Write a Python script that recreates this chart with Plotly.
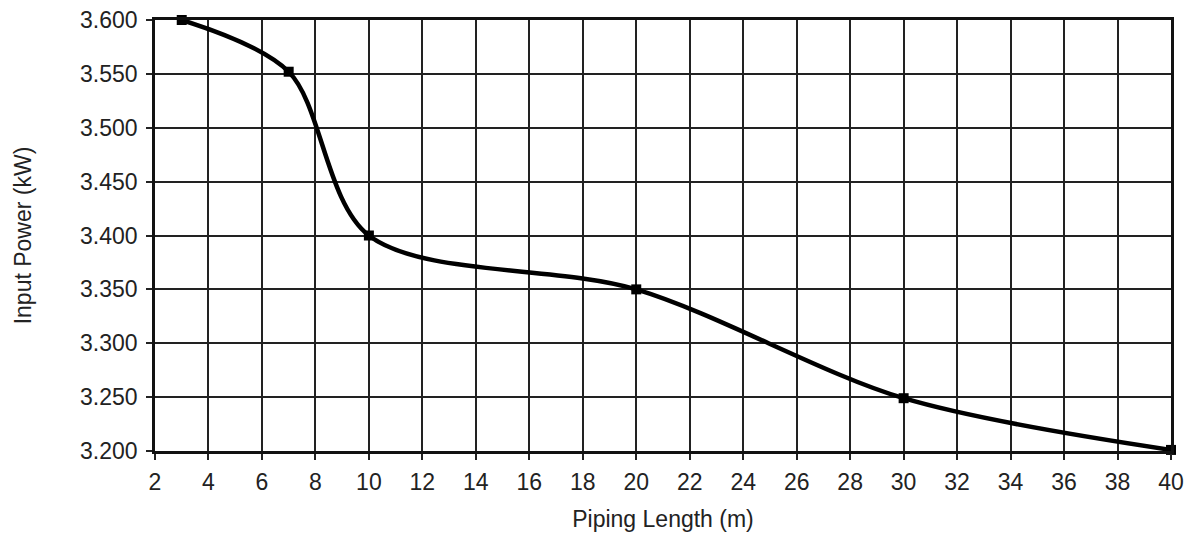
import plotly.graph_objects as go

# Piping length vs input power
piping_length = [3, 7, 10, 20, 30, 40]
input_power = [3.600, 3.552, 3.400, 3.350, 3.249, 3.201]

x_ticks = list(range(2, 41, 2))
y_ticks = [3.20, 3.25, 3.30, 3.35, 3.40, 3.45, 3.50, 3.55, 3.60]

fig = go.Figure()
fig.add_trace(go.Scatter(
    x=piping_length, y=input_power,
    mode="lines+markers",
    line=dict(color="black", width=4.5, shape="spline", smoothing=0.9),
    marker=dict(symbol="square", size=10, color="black"),
    showlegend=False, cliponaxis=False,
))

# page body adds an 8px offset, so margins are trimmed to match
fig.update_layout(
    width=1196, height=538,
    margin=dict(l=147, r=33, t=12, b=95),
    plot_bgcolor="white", paper_bgcolor="white",
    font=dict(family="Liberation Sans, Arial, sans-serif", size=23, color="#222"),
    xaxis=dict(
        title=dict(text="Piping Length (m)", font=dict(size=23), standoff=17),
        range=[2, 40], tickvals=x_ticks, automargin=False,
        ticks="outside", ticklen=6, tickwidth=1.5, tickcolor="#222",
        ticklabelstandoff=3, ticklabeloverflow="allow",
        showgrid=True, gridcolor="#222", gridwidth=1.5,
        showline=True, linecolor="#111", linewidth=2.5, mirror=True,
        zeroline=False,
    ),
    yaxis=dict(
        title=dict(text="Input Power (kW)", font=dict(size=23), standoff=43),
        range=[3.2, 3.6], tickvals=y_ticks, tickformat=".3f", automargin=False,
        ticks="outside", ticklen=6, tickwidth=1.5, tickcolor="#222",
        ticklabelstandoff=4, ticklabeloverflow="allow",
        showgrid=True, gridcolor="#222", gridwidth=1.5,
        showline=True, linecolor="#111", linewidth=2.5, mirror=True,
        zeroline=False,
    ),
)

fig.write_html("out.html")
